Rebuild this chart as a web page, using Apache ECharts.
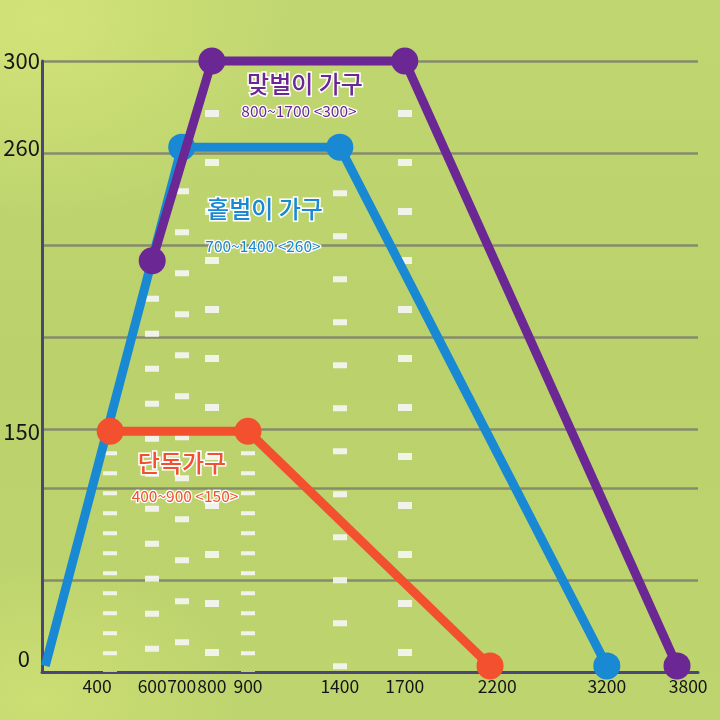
<!DOCTYPE html>
<html>
<head>
<meta charset="utf-8">
<script src="https://cdn.jsdelivr.net/npm/echarts@6/dist/echarts.min.js"></script>
<style>
html,body{margin:0;padding:0;}
#chart{width:720px;height:720px;
background:
 radial-gradient(ellipse 260px 200px at 40px 20px, rgba(213,229,122,0.85), rgba(213,229,122,0) 100%),
 radial-gradient(ellipse 200px 140px at 40px 700px, rgba(208,226,118,0.75), rgba(208,226,118,0) 100%),
 linear-gradient(180deg,#c0d670 0%,#bbd26c 50%,#bed46e 100%);}
</style>
</head>
<body>
<div id="chart"></div>
<script>
// ---- data ----
const xTickValues = [400, 600, 700, 800, 900, 1400, 1700, 2200, 3200, 3800];
const yTickValues = [0, 150, 260, 300];
const singleHousehold = [[400, 150], [900, 150], [2200, 0]];          // 단독가구
const singleEarner    = [[0, 0], [700, 260], [1400, 260], [3200, 0]]; // 홑벌이 가구
const dualEarner      = [[600, 216], [800, 300], [1700, 300], [3800, 0]]; // 맞벌이 가구
const guideLines      = [[400, 150], [600, 216], [700, 260], [800, 300], [900, 150], [1400, 260], [1700, 300]];
const seriesNames  = ['단독가구', '홑벌이 가구', '맞벌이 가구'];
const rangeLabels  = ['400~900 <150>', '700~1400 <260>', '800~1700 <300>'];

// ---- non-linear axis scales (value -> percent of axis length) ----
const xScale = [[0, 0.5], [400, 10.4], [600, 16.8], [700, 21.3], [800, 25.9], [900, 31.4],
                [1400, 45.4], [1700, 55.3], [2200, 68.3], [3200, 86.1], [3800, 96.8]];
const yScale = [[0, 1.0], [150, 39.4], [260, 85.9], [300, 100]];
const yGridPercents = [15.06, 30.11, 39.77, 54.83, 69.89, 84.94, 100];
const xLabelNudge = {400: -2.0, 2200: 1.1, 3800: 1.7};

function interp(scale, v) {
  for (let i = 0; i < scale.length - 1; i++) {
    const a = scale[i], b = scale[i + 1];
    if (v >= a[0] && v <= b[0]) return a[1] + (v - a[0]) / (b[0] - a[0]) * (b[1] - a[1]);
  }
  return v <= scale[0][0] ? scale[0][1] : scale[scale.length - 1][1];
}
const toX = v => interp(xScale, v);
const toY = v => interp(yScale, v);
const toXLabel = v => toX(v) + (xLabelNudge[v] || 0);
function nearestLabel(list, mapFn, p) {
  let best = null, d = 1e9;
  list.forEach(v => { const dd = Math.abs(mapFn(v) - p); if (dd < d) { d = dd; best = v; } });
  return d < 0.5 ? best : null;
}

const colors = ['#f2502f', '#1889d2', '#6b2794'];
const guideDash = [[4, 16], [6, 29], [6, 35], [7, 42], [4, 16], [6, 37], [7, 42]];

const mapData = arr => arr.map(p => [toX(p[0]), toY(p[1])]);

const chart = echarts.init(document.getElementById('chart'), null, {renderer: 'canvas'});
const fontCJK = '"Noto Sans CJK KR", "Noto Sans", sans-serif';

const option = {
  animation: false,
  backgroundColor: 'transparent',
  grid: {left: 42, right: 22, top: 61, bottom: 48, containLabel: false},
  xAxis: {
    type: 'value', min: 0, max: 100,
    splitLine: {show: false},
    axisTick: {show: false},
    axisLine: {show: true, lineStyle: {color: '#4a4778', width: 3}},
    axisLabel: {
      customValues: xTickValues.map(toXLabel),
      formatter: v => { const l = nearestLabel(xTickValues, toXLabel, v); return l === null ? '' : String(l); },
      color: '#151515', fontSize: 17.5, fontFamily: fontCJK, margin: 6
    }
  },
  yAxis: {
    type: 'value', min: 0, max: 100,
    axisLine: {show: true, lineStyle: {color: '#4a4778', width: 3}},
    axisTick: {show: false, customValues: yGridPercents},
    splitLine: {show: true, lineStyle: {color: '#878b6d', width: 2.5}},
    axisLabel: {
      customValues: yTickValues.map(toY),
      formatter: v => { const l = nearestLabel(yTickValues, toY, v); return l === null ? '' : (l === 0 ? '{z|0}' : String(l)); },
      rich: {z: {fontSize: 22, color: '#151515', fontFamily: fontCJK, padding: [0, 10, 14, 0]}},
      color: '#151515', fontSize: 22, fontFamily: fontCJK, margin: 2
    }
  },
  series: [
    {
      type: 'line', name: 'guides', data: [], z: 1, silent: true,
      markLine: {
        silent: true, symbol: ['none', 'none'], animation: false, z: 1,
        label: {show: false},
        data: guideLines.map((p, i) => [
          {coord: [toX(p[0]), toY(p[1])], lineStyle: {type: guideDash[i]}},
          {coord: [toX(p[0]), 0]}
        ]),
        lineStyle: {color: 'rgba(245,245,245,0.92)', width: 14, cap: 'butt'}
      }
    },
    {
      type: 'line', name: seriesNames[1], z: 3,
      data: mapData(singleEarner).map((p, i) => i === 0 ? {value: p, symbol: 'none'} : p),
      symbol: 'circle', symbolSize: 27, clip: false,
      lineStyle: {color: colors[1], width: 9},
      itemStyle: {color: colors[1]}
    },
    {
      type: 'line', name: seriesNames[2], z: 4,
      data: mapData(dualEarner),
      symbol: 'circle', symbolSize: 27, clip: false,
      lineStyle: {color: colors[2], width: 9},
      itemStyle: {color: colors[2]}
    },
    {
      type: 'line', name: seriesNames[0], z: 5,
      data: mapData(singleHousehold),
      symbol: 'circle', symbolSize: 27, clip: false,
      lineStyle: {color: colors[0], width: 9},
      itemStyle: {color: colors[0]}
    }
  ],
  graphic: [
    {type: 'text', x: 305, y: 84, z: 10, style: {text: seriesNames[2], fill: colors[2], stroke: '#ffffff', lineWidth: 3, font: '500 24px ' + fontCJK, align: 'center', verticalAlign: 'middle'}},
    {type: 'text', x: 299, y: 111, z: 10, style: {text: rangeLabels[2], fill: colors[2], stroke: '#ffffff', lineWidth: 2.5, font: '15.5px ' + fontCJK, align: 'center', verticalAlign: 'middle'}},
    {type: 'text', x: 265, y: 209, z: 10, style: {text: seriesNames[1], fill: colors[1], stroke: '#ffffff', lineWidth: 3, font: '500 24px ' + fontCJK, align: 'center', verticalAlign: 'middle'}},
    {type: 'text', x: 263, y: 246, z: 10, style: {text: rangeLabels[1], fill: colors[1], stroke: '#ffffff', lineWidth: 2.5, font: '15.5px ' + fontCJK, align: 'center', verticalAlign: 'middle'}},
    {type: 'text', x: 182, y: 463, z: 10, style: {text: seriesNames[0], fill: colors[0], stroke: '#ffffff', lineWidth: 3, font: '500 24px ' + fontCJK, align: 'center', verticalAlign: 'middle'}},
    {type: 'text', x: 185, y: 496, z: 10, style: {text: rangeLabels[0], fill: colors[0], stroke: '#ffffff', lineWidth: 2.5, font: '15.5px ' + fontCJK, align: 'center', verticalAlign: 'middle'}}
  ]
};
chart.setOption(option);
</script>
</body>
</html>
